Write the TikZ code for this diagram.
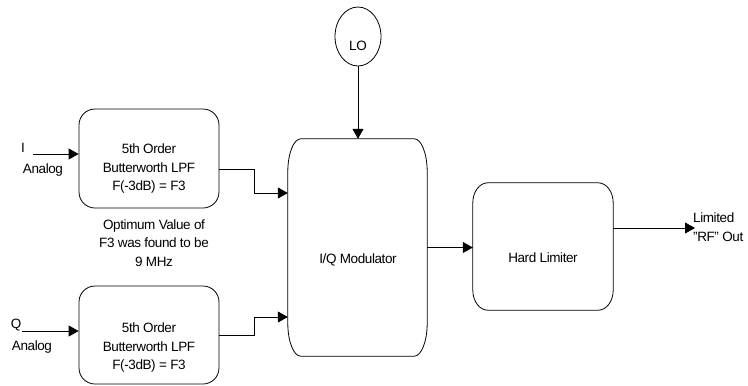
\documentclass[tikz,border=0pt]{standalone}
\usepackage{fontspec}
\setmainfont{Liberation Sans}[LetterSpace=-3]
\usetikzlibrary{arrows.meta,shapes.geometric,calc}
\newcommand{\ellbox}[3]{%
  \draw[line] ([xshift=#2]#1.north west) -- ([xshift=-#2]#1.north east)
    arc[start angle=90,end angle=0,x radius=#2,y radius=#3]
    -- ([yshift=#3]#1.south east)
    arc[start angle=0,end angle=-90,x radius=#2,y radius=#3]
    -- ([xshift=#2]#1.south west)
    arc[start angle=270,end angle=180,x radius=#2,y radius=#3]
    -- ([yshift=-#3]#1.north west)
    arc[start angle=180,end angle=90,x radius=#2,y radius=#3] -- cycle;}
\begin{document}
\begin{tikzpicture}[x=1pt,y=-1pt,
  font=\fontsize{13.5}{18.5}\selectfont,
  line/.style={draw=black,line width=0.8pt},
  arr/.style={line,-{Triangle[length=10pt,width=11pt]}},
  blockarea/.style={rectangle,inner sep=0pt,draw=none},
  filterbox/.style={rectangle,draw,line width=0.8pt,rounded corners=16pt,
    minimum width=140pt,minimum height=99pt,inner sep=0pt},
  txt/.style={align=center,inner sep=0pt}]
\useasboundingbox (0,0) rectangle (748,386);

% blocks
\node[filterbox] (fI) at (149,158.5) {};
\node[txt] (fIt) at (149,169) {5th Order\\Butterworth LPF\\F(-3dB) = F3};
\node[txt] (note) at (154,243) {Optimum Value of\\F3 was found to be\\9 MHz};
\node[filterbox,minimum height=98pt] (fQ) at (149,335) {};
\node[txt] (fQt) at (149,348) {5th Order\\Butterworth LPF\\F(-3dB) = F3};
\node[blockarea,minimum width=139pt,minimum height=217pt] (mod) at (357.5,247.5) {};
\ellbox{mod}{13pt}{33pt}
\node[txt] (modt) at (358,260) {I/Q Modulator};
\node[ellipse,draw,line width=0.8pt,minimum width=46pt,minimum height=59pt,inner sep=0pt] (lo) at (358,36.5) {};
\node[txt] (lot) at (358,46) {LO};
\node[blockarea,minimum width=140pt,minimum height=127pt] (hl) at (543,246.5) {};
\ellbox{hl}{15pt}{20pt}
\node[txt] (hlt) at (543,258) {Hard Limiter};

% labels
\node[txt] (iL) at (23,148) {I};
\node[txt] (iA) at (43,170) {Analog};
\node[txt] (qL) at (16,325) {Q};
\node[txt] (qA) at (32,347) {Analog};
\node[txt,align=left,anchor=west] (outL) at (693,227) {Limited\\"RF" Out};

% helper coordinates
\coordinate (iin) at (33,154);
\coordinate (qin) at (22,331);
\coordinate (iy) at (0,169);
\coordinate (iy2) at (0,193);
\coordinate (qy) at (0,335);
\coordinate (qy2) at (0,317);
\coordinate (oy) at (0,228);
\coordinate (rfout) at (695,228);

% connectors
\draw[arr] (iin) -- (fI.west |- iin);
\draw[arr] (qin) -- (fQ.west |- qin);
\draw[arr] (fI.east |- iy) -- ++(35,0) |- (mod.west |- iy2);
\draw[arr] (fQ.east |- qy) -- ++(35,0) |- (mod.west |- qy2);
\draw[arr] (lo.south) -- (lo.south |- mod.north);
\draw[arr] (mod.east) -- (mod.east -| hl.west);
\draw[arr] (hl.east |- oy) -- (rfout);
\end{tikzpicture}
\end{document}
